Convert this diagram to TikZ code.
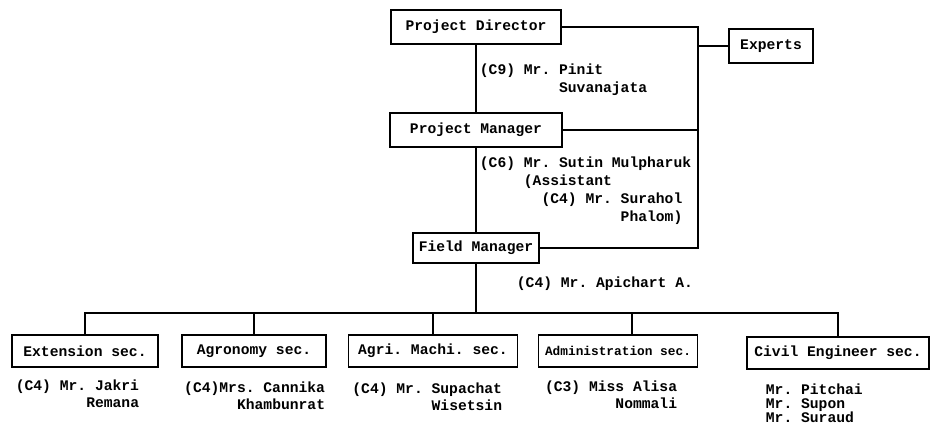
\documentclass[tikz,border=0pt]{standalone}
\usepackage{fontspec}
\setmonofont{Liberation Mono}
\usetikzlibrary{positioning}

\begin{document}
\begin{tikzpicture}[
    x=0.75pt, y=-0.75pt, line width=1.4pt,
    unit/.style={draw, line width=1.4pt, minimum width=#1, minimum height=24pt,
                 inner sep=0pt, font=\ttfamily\bfseries\fontsize{11}{13}\selectfont},
    person/.style={inner sep=0pt, font=\ttfamily\bfseries\fontsize{11}{13.5}\selectfont},
    staff/.style={person, anchor=north east, align=right,
                  font=\ttfamily\bfseries\fontsize{11}{12.5}\selectfont}
]
    \useasboundingbox (0,0) rectangle (931,431);

    % upper chain
    \node[unit=127.5pt, minimum height=25pt] (director) at (476,27) {Project Director};
    \node[unit=129pt, minimum height=26pt] (manager) at (476,130) {Project Manager};
    \node[unit=94.5pt, minimum height=22.5pt] (field) at (476,248) {Field Manager};
    \node[unit=63pt, minimum height=25.5pt] (experts) at (771,46) {Experts};

    % sections
    \node[unit=109.5pt] (extension) at (85,351) {Extension sec.};
    \node[unit=108pt] (agronomy) at (254,351) {Agronomy sec.};
    \node[unit=126.75pt] (machi) at (433,351) {Agri. Machi. sec.};
    \node[unit=119.25pt, font=\ttfamily\bfseries\fontsize{9.6}{12}\selectfont] (admin)
        at (618,351) {Administration sec.};
    \node[unit=137pt, minimum height=23.5pt] (civil) at (838,353) {Civil Engineer sec.};

    % connectors
    \coordinate (rail) at (698,27);
    \coordinate (bus) at (476,313);
    \draw (director.south) -- (manager.north);
    \draw (manager.south) -- (field.north);
    \draw (director.east) -| (rail |- field.east) -- (field.east);
    \draw (manager.east) -- (manager.east -| rail);
    \draw (experts.west) -- (experts.west -| rail);
    \draw (field.south) -- (bus);
    \draw (extension.north) |- (bus) -| (civil.north);
    \draw (agronomy.north) -- (agronomy.north |- bus);
    \draw (machi.north) -- (machi.north |- bus);
    \draw ([xshift=10.5pt]admin.north) -- ([xshift=10.5pt]admin.north |- bus);

    % names
    \node[person, anchor=north west, align=left] (pinit) at (479,63)
        {(C9) Mr. Pinit\\\hspace*{5.4em}Suvanajata};
    \node[person, anchor=north west, align=left] (sutin) at (479,156)
        {(C6) Mr. Sutin Mulpharuk\\\hspace*{3em}(Assistant\\\hspace*{4.2em}(C4) Mr. Surahol\\\hspace*{9.6em}Phalom)};
    \node[person, anchor=north west] (apichart) at (516,276) {(C4) Mr. Apichart A.};

    \node[staff] (jakri) at (140,379) {(C4) Mr. Jakri\\Remana};
    \node[staff] (cannika) at (326,381) {(C4)Mrs. Cannika\\Khambunrat};
    \node[staff] (supachat) at (503,382) {(C4) Mr. Supachat\\Wisetsin};
    \node[staff] (alisa) at (678,380) {(C3) Miss Alisa\\Nommali};
    \node[person, anchor=north west, align=left,
          font=\ttfamily\bfseries\fontsize{11}{10.5}\selectfont] (civilstaff) at (765,383)
        {Mr. Pitchai\\Mr. Supon\\Mr. Suraud};
\end{tikzpicture}
\end{document}
